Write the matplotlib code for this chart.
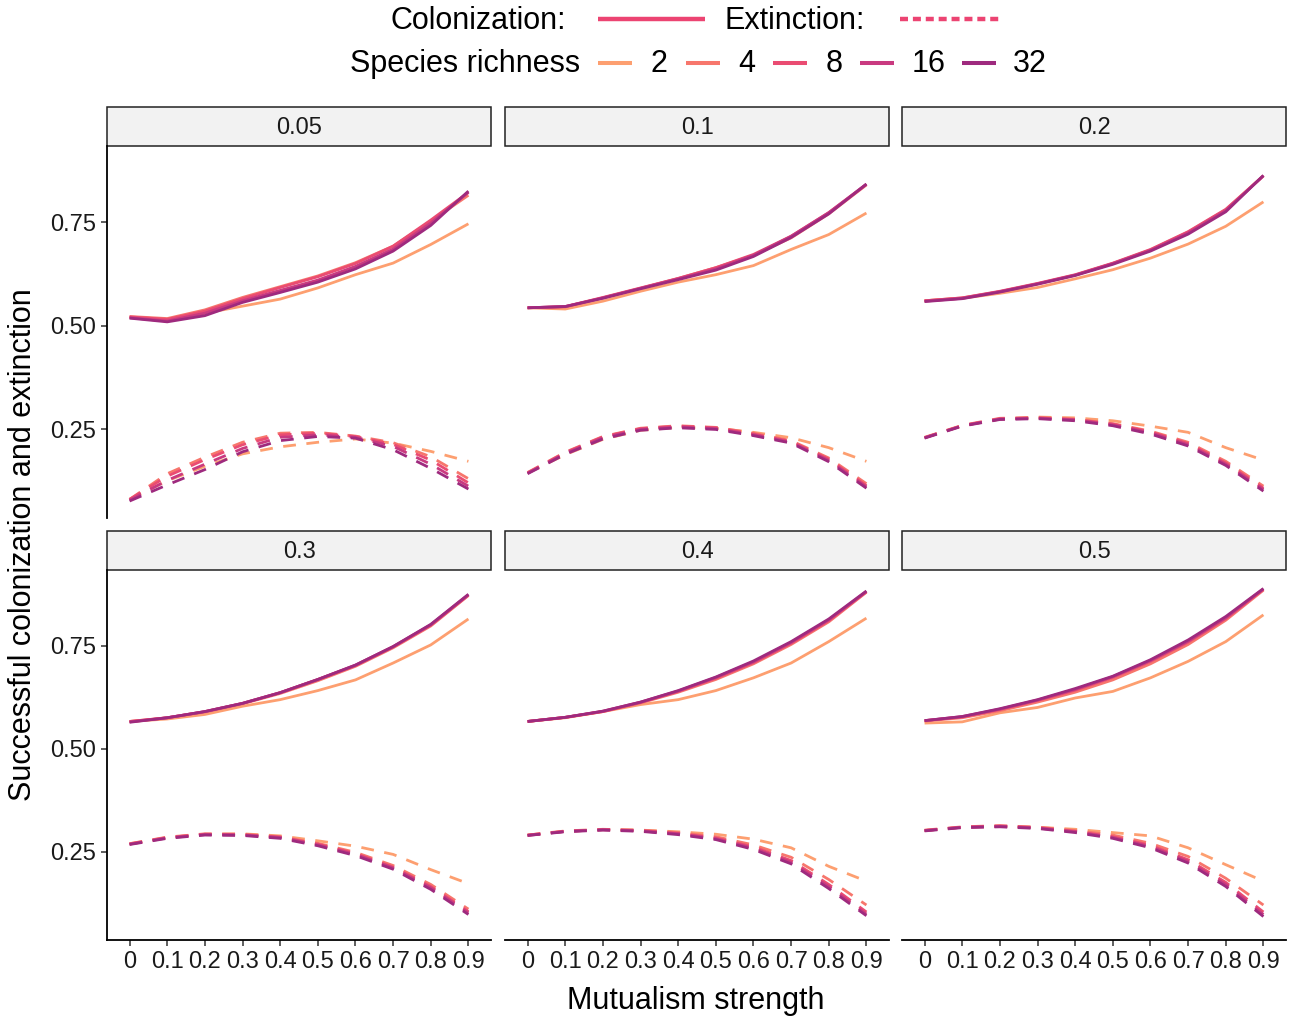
import matplotlib
matplotlib.use("Agg")
import matplotlib.pyplot as plt
from matplotlib.lines import Line2D
from matplotlib.patches import Rectangle

plt.rcParams['font.family'] = ['Liberation Sans', 'DejaVu Sans']

# ---------------- data ----------------
mutualism = ["0", "0.1", "0.2", "0.3", "0.4", "0.5", "0.6", "0.7", "0.8", "0.9"]
richness = ["2", "4", "8", "16", "32"]
facets = ["0.05", "0.1", "0.2", "0.3", "0.4", "0.5"]
richness_colors = ["#FD9F70", "#F7766C", "#EA4C72", "#C93A80", "#9E2A7E"]

# rows: richness 2, 4, 8, 16, 32
col_005 = [
    [0.520, 0.515, 0.530, 0.547, 0.564, 0.591, 0.623, 0.651, 0.696, 0.746],
    [0.522, 0.517, 0.538, 0.568, 0.594, 0.620, 0.652, 0.692, 0.752, 0.815],
    [0.521, 0.515, 0.535, 0.565, 0.592, 0.618, 0.650, 0.692, 0.755, 0.822],
    [0.519, 0.511, 0.530, 0.560, 0.585, 0.610, 0.643, 0.685, 0.748, 0.822],
    [0.518, 0.509, 0.524, 0.556, 0.580, 0.605, 0.637, 0.680, 0.742, 0.825],
]
ext_005 = [
    [0.080, 0.125, 0.160, 0.190, 0.207, 0.218, 0.226, 0.216, 0.196, 0.172],
    [0.080, 0.142, 0.182, 0.218, 0.240, 0.242, 0.233, 0.217, 0.183, 0.130],
    [0.080, 0.136, 0.176, 0.212, 0.236, 0.240, 0.232, 0.213, 0.175, 0.120],
    [0.078, 0.126, 0.165, 0.203, 0.230, 0.236, 0.230, 0.208, 0.165, 0.112],
    [0.076, 0.115, 0.152, 0.195, 0.222, 0.232, 0.228, 0.200, 0.155, 0.105],
]
col_01 = [
    [0.543, 0.540, 0.559, 0.583, 0.605, 0.623, 0.645, 0.684, 0.720, 0.772],
    [0.543, 0.545, 0.567, 0.590, 0.614, 0.640, 0.670, 0.712, 0.770, 0.840],
    [0.543, 0.546, 0.568, 0.591, 0.614, 0.640, 0.672, 0.716, 0.773, 0.841],
    [0.543, 0.546, 0.567, 0.590, 0.613, 0.637, 0.670, 0.716, 0.773, 0.842],
    [0.543, 0.546, 0.566, 0.589, 0.611, 0.634, 0.667, 0.713, 0.770, 0.842],
]
ext_01 = [
    [0.144, 0.188, 0.225, 0.247, 0.254, 0.252, 0.242, 0.229, 0.205, 0.172],
    [0.145, 0.194, 0.232, 0.252, 0.258, 0.254, 0.240, 0.222, 0.180, 0.118],
    [0.144, 0.193, 0.231, 0.251, 0.257, 0.253, 0.238, 0.220, 0.177, 0.113],
    [0.143, 0.191, 0.229, 0.249, 0.255, 0.251, 0.236, 0.218, 0.174, 0.110],
    [0.142, 0.189, 0.226, 0.247, 0.253, 0.249, 0.234, 0.216, 0.171, 0.107],
]
col_02 = [
    [0.560, 0.566, 0.578, 0.592, 0.613, 0.635, 0.663, 0.697, 0.740, 0.799],
    [0.560, 0.567, 0.582, 0.601, 0.622, 0.650, 0.683, 0.726, 0.780, 0.862],
    [0.560, 0.567, 0.583, 0.602, 0.623, 0.651, 0.684, 0.727, 0.781, 0.862],
    [0.559, 0.566, 0.582, 0.601, 0.622, 0.650, 0.682, 0.724, 0.778, 0.862],
    [0.558, 0.565, 0.581, 0.600, 0.621, 0.648, 0.680, 0.721, 0.775, 0.863],
]
ext_02 = [
    [0.229, 0.258, 0.274, 0.279, 0.277, 0.270, 0.257, 0.242, 0.205, 0.175],
    [0.230, 0.259, 0.276, 0.278, 0.274, 0.263, 0.245, 0.218, 0.172, 0.112],
    [0.229, 0.258, 0.275, 0.277, 0.273, 0.262, 0.243, 0.215, 0.168, 0.107],
    [0.229, 0.258, 0.274, 0.276, 0.272, 0.260, 0.241, 0.212, 0.165, 0.104],
    [0.228, 0.257, 0.273, 0.275, 0.270, 0.258, 0.238, 0.209, 0.162, 0.100],
]
col_03 = [
    [0.566, 0.572, 0.583, 0.603, 0.619, 0.641, 0.667, 0.708, 0.752, 0.815],
    [0.566, 0.575, 0.589, 0.609, 0.634, 0.665, 0.700, 0.745, 0.798, 0.872],
    [0.566, 0.575, 0.590, 0.610, 0.636, 0.668, 0.702, 0.747, 0.800, 0.873],
    [0.565, 0.575, 0.590, 0.610, 0.636, 0.668, 0.703, 0.748, 0.801, 0.874],
    [0.564, 0.575, 0.590, 0.610, 0.636, 0.668, 0.703, 0.748, 0.802, 0.875],
]
ext_03 = [
    [0.269, 0.284, 0.292, 0.293, 0.288, 0.276, 0.263, 0.243, 0.206, 0.172],
    [0.269, 0.285, 0.293, 0.292, 0.286, 0.270, 0.248, 0.216, 0.170, 0.110],
    [0.268, 0.284, 0.292, 0.291, 0.285, 0.268, 0.245, 0.212, 0.165, 0.104],
    [0.268, 0.283, 0.291, 0.290, 0.284, 0.266, 0.243, 0.210, 0.162, 0.101],
    [0.267, 0.282, 0.290, 0.289, 0.282, 0.264, 0.240, 0.207, 0.158, 0.097],
]
col_04 = [
    [0.566, 0.575, 0.590, 0.607, 0.619, 0.641, 0.672, 0.708, 0.760, 0.817],
    [0.566, 0.576, 0.590, 0.611, 0.637, 0.668, 0.706, 0.753, 0.808, 0.880],
    [0.566, 0.576, 0.590, 0.612, 0.639, 0.671, 0.709, 0.756, 0.811, 0.881],
    [0.566, 0.576, 0.591, 0.613, 0.640, 0.673, 0.711, 0.758, 0.813, 0.882],
    [0.566, 0.576, 0.591, 0.613, 0.641, 0.674, 0.713, 0.760, 0.815, 0.883],
]
ext_04 = [
    [0.290, 0.299, 0.303, 0.302, 0.298, 0.292, 0.280, 0.259, 0.214, 0.178],
    [0.290, 0.300, 0.304, 0.302, 0.296, 0.286, 0.266, 0.236, 0.182, 0.120],
    [0.290, 0.299, 0.303, 0.301, 0.294, 0.283, 0.261, 0.228, 0.170, 0.103],
    [0.289, 0.299, 0.303, 0.300, 0.293, 0.281, 0.258, 0.224, 0.165, 0.098],
    [0.289, 0.298, 0.302, 0.299, 0.291, 0.279, 0.255, 0.220, 0.160, 0.094],
]
col_05 = [
    [0.562, 0.565, 0.587, 0.600, 0.623, 0.639, 0.672, 0.712, 0.760, 0.825],
    [0.567, 0.575, 0.592, 0.613, 0.637, 0.667, 0.706, 0.753, 0.812, 0.885],
    [0.568, 0.577, 0.595, 0.617, 0.642, 0.673, 0.712, 0.759, 0.816, 0.887],
    [0.568, 0.578, 0.596, 0.618, 0.644, 0.675, 0.714, 0.761, 0.818, 0.888],
    [0.568, 0.578, 0.597, 0.619, 0.646, 0.676, 0.716, 0.764, 0.821, 0.889],
]
ext_05 = [
    [0.301, 0.309, 0.311, 0.309, 0.304, 0.296, 0.288, 0.259, 0.218, 0.178],
    [0.302, 0.310, 0.313, 0.309, 0.301, 0.290, 0.270, 0.238, 0.185, 0.120],
    [0.301, 0.309, 0.312, 0.308, 0.299, 0.286, 0.265, 0.230, 0.175, 0.103],
    [0.301, 0.309, 0.311, 0.307, 0.298, 0.284, 0.262, 0.226, 0.170, 0.097],
    [0.300, 0.308, 0.310, 0.306, 0.296, 0.282, 0.259, 0.222, 0.165, 0.092],
]

colonization = [col_005, col_01, col_02, col_03, col_04, col_05]
extinction = [ext_005, ext_01, ext_02, ext_03, ext_04, ext_05]

# ---------------- layout helpers ----------------
W, H = 1300, 1018
fig = plt.figure(figsize=(W / 100, H / 100), dpi=100)


def fx(x):
    return x / W


def fy(y):
    return 1 - y / H


col_left = [107, 505, 902]
panel_w = 384
row_top = [146, 570]
panel_h = [372, 370]
strip_h = 39

TICK_FS = 17
TITLE_FS = 22
ink = "#1A1A1A"

xpos = list(range(1, len(mutualism) + 1))

for i, facet in enumerate(facets):
    r, c = divmod(i, 3)
    left = col_left[c]
    top = row_top[r]
    ph = panel_h[r]
    ax = fig.add_axes([fx(left), fy(top + ph), panel_w / W, ph / H])
    ax.set_xlim(0.4, len(mutualism) + 0.6)
    ax.set_ylim(0.035, 0.934)

    for k in range(len(richness)):
        ax.plot(xpos, colonization[i][k], color=richness_colors[k], lw=2.0,
                solid_capstyle="butt", solid_joinstyle="round")
    for k in range(len(richness)):
        ax.plot(xpos, extinction[i][k], color=richness_colors[k], lw=2.0,
                linestyle=(0, (4.6, 3.8)), dash_capstyle="butt")

    for s in ax.spines.values():
        s.set_visible(False)
    ax.set_facecolor("none")

    if c == 0:
        ax.spines["left"].set_visible(True)
        ax.spines["left"].set_linewidth(1.3)
        ax.spines["left"].set_color("black")
        ax.set_yticks([0.25, 0.5, 0.75])
        ax.set_yticklabels(["0.25", "0.50", "0.75"])
        ax.tick_params(axis="y", length=4, width=1.1, color="#333333",
                       labelsize=TICK_FS, labelcolor=ink, pad=4)
    else:
        ax.set_yticks([])

    if r == 1:
        ax.spines["bottom"].set_visible(True)
        ax.spines["bottom"].set_linewidth(1.3)
        ax.spines["bottom"].set_color("black")
        ax.set_xticks(xpos)
        ax.set_xticklabels(mutualism)
        ax.tick_params(axis="x", length=4, width=1.1, color="#333333",
                       labelsize=TICK_FS, labelcolor=ink, pad=4)
    else:
        ax.set_xticks([])

    # facet strip
    sh = strip_h / ph
    ax.add_patch(Rectangle((0, 1), 1, sh, transform=ax.transAxes,
                           facecolor="#F2F2F2", edgecolor="#222222",
                           lw=1.1, clip_on=False))
    ax.text(0.5, 1 + sh / 2 - 0.003, facet, transform=ax.transAxes,
            ha="center", va="center", fontsize=TICK_FS, color=ink)

# axis titles
fig.text(fx(696), fy(1001), "Mutualism strength", ha="center", va="center",
         fontsize=TITLE_FS, color="black")
fig.text(fx(23), fy(545), "Successful colonization and extinction",
         ha="center", va="center", rotation=90, fontsize=TITLE_FS, color="black")

# legend: line type row
leg_col = "#EC4472"
fig.text(fx(566), fy(21), "Colonization:", ha="right", va="center",
         fontsize=TITLE_FS, color="black")
fig.add_artist(Line2D([fx(598), fx(705)], [fy(19), fy(19)], color=leg_col,
                      lw=3.2, solid_capstyle="butt"))
fig.text(fx(865), fy(21), "Extinction:", ha="right", va="center",
         fontsize=TITLE_FS, color="black")
fig.add_artist(Line2D([fx(900), fx(1000)], [fy(19), fy(19)], color=leg_col,
                      lw=3.2, linestyle=(0, (1.8, 1.1)), dash_capstyle="butt"))

# legend: species richness row
fig.text(fx(580), fy(64), "Species richness", ha="right", va="center",
         fontsize=TITLE_FS, color="black")
key_x = [598, 686, 773, 860, 962]
lab_x = [659, 747, 834, 929, 1030]
for k in range(len(richness)):
    fig.add_artist(Line2D([fx(key_x[k]), fx(key_x[k] + 34)], [fy(63), fy(63)],
                          color=richness_colors[k], lw=2.9,
                          solid_capstyle="butt"))
    fig.text(fx(lab_x[k]), fy(64), richness[k], ha="center", va="center",
             fontsize=TITLE_FS, color="black")

fig.savefig("out.png", dpi=100, facecolor="white")
